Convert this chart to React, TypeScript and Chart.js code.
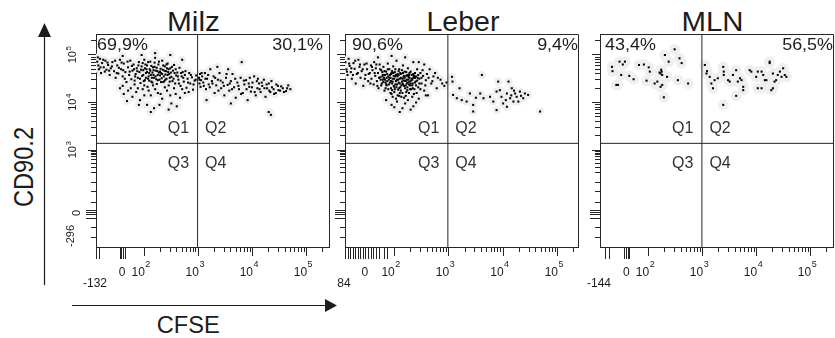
import React, { useEffect, useRef } from 'react';
import { Chart, registerables } from 'chart.js';

Chart.register(...registerables);

// ---------------- text ----------------
const PANEL_TITLES = ['Milz', 'Leber', 'MLN'];
const Q1_PERCENT = ['69,9%', '90,6%', '43,4%'];
const Q2_PERCENT = ['30,1%', '9,4%', '56,5%'];
const QUADRANT_NAMES = ['Q1', 'Q2', 'Q3', 'Q4'];
const X_AXIS_TITLE = 'CFSE';
const Y_AXIS_TITLE = 'CD90.2';

// ---------------- axes (display units: decades) ----------------
const GATE_X = 2.985;
const GATE_Y = 3.14;
const X_MIN = [1.107, 1.094, 1.098];
const X_MAX = [5.414, 5.377, 5.413];
const Y_MIN = 0.958;
const Y_MAX = 5.442;

const X_TICK_LABELS = [
  ['-132', '0', '10^2', '10^3', '10^4', '10^5'],
  ['84', '0', '10^2', '10^3', '10^4', '10^5'],
  ['-144', '0', '10^2', '10^3', '10^4', '10^5'],
];
const X_TICK_VALUES = [
  [1.107, 1.588, 2, 3, 4, 5],
  [1.094, 1.46, 2, 3, 4, 5],
  [1.098, 1.587, 2, 3, 4, 5],
];
const Y_TICK_LABELS = ['10^5', '10^4', '10^3', '0', '-296'];
const Y_TICK_VALUES = [5, 4, 3, 1.674, 0.958];

const X_MAJOR_TICKS = [2, 3, 4, 5];
const X_LINEAR_TICKS = [
  [1.12, 1.168, 1.553, 1.584, 1.614, 1.645],
  [1.112, 1.158, 1.204, 1.25, 1.296, 1.342, 1.388, 1.434, 1.48, 1.526, 1.572, 1.627, 1.682, 1.737, 1.811, 1.884],
  [1.204, 1.265, 1.556, 1.587, 1.617, 1.648],
];
const Y_MAJOR_TICKS = [3, 4, 5];
const Y_LINEAR_TICKS = [1.568, 1.632, 1.674, 1.716];
const Y_LOW_MINOR_TICKS = [1.168, 1.379, 1.905, 2.116, 2.326, 2.516, 2.642, 2.726, 2.8, 2.853, 2.895, 2.926, 2.958];
const LOG_MULTIPLIERS = [2, 3, 4, 5, 6, 7, 8, 9];

// ---------------- events [CFSE, CD90.2] ----------------
const MILZ_Q1 = [
  [1.13,4.86],[1.15,4.78],[1.18,4.92],[1.16,4.70],[1.22,4.83],[1.25,4.74],[1.20,4.62],[1.28,4.88],[1.30,4.69],[1.33,4.79],
  [1.36,4.58],[1.38,4.72],[1.41,4.85],[1.44,4.66],[1.47,4.52],[1.50,4.78],[1.52,4.61],[1.55,4.90],[1.57,4.70],[1.60,4.55],
  [1.62,4.82],[1.65,4.64],[1.67,4.43],[1.70,4.74],[1.72,4.58],
  [1.74,4.88],[1.76,4.49],[1.78,4.67],[1.80,4.80],[1.82,4.38],[1.84,4.60],[1.86,4.72],[1.88,4.52],[1.90,4.85],[1.91,4.64],
  [1.93,4.41],[1.95,4.76],[1.96,4.56],[1.98,4.68],[2.00,4.90],[2.01,4.47],[2.03,4.62],[2.05,4.78],[2.06,4.33],[2.08,4.55],
  [2.10,4.70],[2.11,4.86],[2.13,4.44],[2.15,4.63],[2.16,4.74],[2.18,4.52],[2.20,4.94],[2.21,4.67],[2.23,4.39],[2.25,4.58],
  [2.26,4.80],[2.28,4.48],[2.30,4.71],[2.31,4.62],[2.33,4.88],[2.35,4.43],[2.36,4.55],[2.38,4.76],[2.40,4.66],[2.41,4.50],
  [2.43,4.82],[2.45,4.36],[2.46,4.60],[2.48,4.72],[2.50,4.54],[2.52,4.45],[2.53,4.67],[2.55,4.79],[2.57,4.40],[2.59,4.57],
  [2.61,4.63],[2.63,4.48],[2.65,4.73],[2.67,4.35],[2.69,4.55],[2.71,4.64],[2.73,4.44],[2.75,4.58],[2.78,4.31],[2.80,4.50],
  [2.83,4.62],[2.85,4.40],[2.88,4.53],[2.90,4.27],[2.93,4.46],[2.96,4.57],
  [1.98,4.58],[2.04,4.70],[2.09,4.62],[2.14,4.52],[2.19,4.75],[2.24,4.66],[2.29,4.57],[2.34,4.69],[2.39,4.59],[2.44,4.64],
  [2.12,4.58],[2.22,4.49],[2.32,4.51],[2.27,4.63],[2.17,4.68],[2.07,4.50],[2.37,4.45],[2.42,4.72],[2.02,4.80],[2.47,4.52],
  [1.55,4.30],[1.62,4.18],[1.70,4.25],[1.78,4.12],[1.85,4.22],[1.92,4.05],[1.97,4.28],[2.05,3.95],[2.12,4.15],[2.18,3.88],
  [2.25,4.20],[2.33,4.08],[2.42,4.25],[2.50,3.98],[2.58,4.18],[2.66,4.10],[2.75,4.20],[2.12,3.80],[1.68,4.03],[2.60,3.92],
  [2.48,5.00],[2.20,5.04],[1.95,5.00],[2.70,4.90],[1.60,4.98],
  [1.81,4.70],[1.83,4.55],[1.87,4.66],[1.89,4.78],[1.92,4.50],[1.94,4.69],[1.97,4.83],[1.99,4.45],[2.01,4.72],[2.03,4.52],
  [2.05,4.64],[2.07,4.85],[2.09,4.46],[2.11,4.67],[2.13,4.77],[2.15,4.42],[2.17,4.58],[2.19,4.84],[2.21,4.55],[2.23,4.73],
  [2.25,4.47],[2.27,4.86],[2.29,4.65],[2.31,4.43],[2.33,4.60],[2.35,4.78],[2.37,4.67],[2.39,4.48],[2.41,4.80],[2.43,4.58],
  [2.45,4.70],[2.47,4.44],[2.49,4.63],[2.51,4.75],[2.54,4.50],[2.56,4.62],[2.58,4.70],[2.62,4.55],[2.64,4.40],[2.68,4.62],
  [2.72,4.52],[2.76,4.66],[2.81,4.42],[2.86,4.58],[2.91,4.38],[2.95,4.48],
  [1.14,4.95],[1.19,4.74],[1.24,4.90],[1.27,4.65],[1.32,4.84],[1.35,4.67],[1.40,4.76],[1.46,4.88],[1.49,4.62],[1.53,4.73],
  [1.58,4.84],[1.61,4.68],[1.64,4.50],[1.69,4.86],[1.73,4.65],[1.77,4.77],
  [1.60,4.35],[1.75,4.30],[1.88,4.30],[2.00,4.15],[2.08,4.25],[2.20,4.28],[2.30,4.18],[2.38,4.32],[2.48,4.15],[2.55,4.30],
  [2.70,4.28],[2.82,4.22],[1.90,3.95],[2.28,3.95],[2.45,3.85],[2.16,4.36],[2.00,4.36],[1.82,4.46],
];
const MILZ_Q2 = [
  [3.01,4.52],[3.02,4.40],[3.03,4.60],[3.05,4.47],[3.04,4.33],[3.07,4.55],[3.09,4.42],[3.12,4.62],[3.14,4.28],[3.16,4.50],
  [3.19,4.38],[3.22,4.70],[3.25,4.45],[3.28,4.55],[3.30,4.20],[3.33,4.36],[3.36,4.48],[3.39,4.62],[3.42,4.30],[3.45,4.42],
  [3.48,4.15],[3.51,4.52],[3.54,4.37],[3.57,4.25],[3.60,4.45],[3.63,4.60],[3.66,4.32],[3.69,4.10],[3.72,4.42],[3.75,4.28],
  [3.78,4.52],[3.80,4.85],[3.82,4.20],[3.85,4.38],[3.88,4.47],[3.91,4.05],[3.94,4.33],[3.97,4.23],[4.00,4.42],[4.03,4.55],
  [4.06,4.15],[4.09,4.30],[4.12,4.40],[4.15,4.22],[4.18,4.35],[4.21,4.48],[4.24,4.12],[4.27,4.30],[4.30,4.40],[4.33,4.22],
  [4.36,4.32],[4.40,4.18],[4.44,4.38],[4.48,4.26],[4.53,4.34],[4.58,4.22],[4.64,4.30],[4.70,4.28],[4.30,3.80],[4.34,3.74],
  [3.35,4.75],[3.55,4.70],[3.15,4.05],[3.60,3.98],[4.10,4.50],[3.95,4.52],
  [3.02,4.48],[3.06,4.62],[3.10,4.35],[3.13,4.50],[3.18,4.58],[3.21,4.32],[3.26,4.40],[3.31,4.52],[3.37,4.25],[3.41,4.46],
  [3.47,4.35],[3.52,4.60],[3.58,4.40],[3.62,4.28],[3.68,4.50],[3.74,4.35],[3.79,4.18],[3.84,4.46],[3.89,4.28],[3.93,4.40],
  [3.99,4.32],[4.04,4.22],[4.08,4.45],[4.13,4.28],[4.17,4.42],[4.22,4.30],[4.26,4.38],[4.31,4.25],[4.35,4.45],[4.39,4.28],
  [4.43,4.20],[4.47,4.35],[4.51,4.25],[4.56,4.30],[4.62,4.24],[4.66,4.36],
];
const LEBER_Q1 = [
  [1.10,4.85],[1.12,4.70],[1.14,4.58],[1.16,4.92],[1.18,4.77],[1.20,4.64],[1.22,4.50],[1.25,4.83],[1.27,4.71],[1.29,4.40],
  [1.31,4.60],[1.34,4.90],[1.36,4.75],[1.38,4.52],[1.40,4.66],[1.43,4.35],[1.45,4.80],[1.47,4.58],[1.50,4.70],[1.52,4.45],
  [1.55,4.62],[1.57,4.78],[1.58,4.50],[1.60,4.68],[1.62,4.38],[1.63,4.85],[1.65,4.56],[1.66,4.72],[1.68,4.45],[1.70,4.62],
  [1.71,4.30],[1.73,4.80],[1.74,4.53],[1.76,4.68],[1.77,4.40],[1.79,4.58],[1.80,4.75],[1.82,4.25],[1.83,4.48],[1.85,4.65],
  [1.86,4.36],[1.88,4.82],[1.89,4.55],[1.91,4.70],[1.92,4.42],[1.94,4.60],[1.95,4.18],[1.97,4.50],[1.98,4.76],[2.00,4.33],
  [2.01,4.64],[2.03,4.45],[2.04,4.88],[2.06,4.55],[2.07,4.27],[2.09,4.70],[2.10,4.40],[2.12,4.60],[2.13,4.12],[2.15,4.50],
  [2.16,4.78],[2.18,4.35],[2.19,4.65],[2.21,4.45],[2.22,4.22],[2.24,4.58],[2.25,4.72],[2.27,4.38],[2.28,4.52],[2.30,4.65],
  [2.31,4.28],[2.33,4.48],[2.35,4.60],[2.36,4.18],[2.38,4.42],[2.40,4.55],[2.42,4.70],[2.44,4.32],[2.46,4.50],[2.48,4.62],
  [2.50,4.40],[2.53,4.56],[2.55,4.25],[2.58,4.47],[2.60,4.60],
  [1.90,4.48],[1.93,4.52],[1.96,4.40],[1.99,4.56],[2.02,4.38],[2.05,4.48],[2.08,4.58],[2.11,4.32],[2.14,4.44],[2.17,4.54],
  [2.20,4.30],[2.23,4.40],[2.26,4.48],[2.29,4.36],[2.32,4.58],[1.87,4.60],[1.84,4.42],[1.81,4.52],[1.78,4.64],[2.00,4.22],
  [2.06,4.15],[2.12,4.25],[2.18,4.10],[1.94,4.30],[2.34,4.40],[2.08,4.66],[2.16,4.62],[1.96,4.66],[2.22,4.56],[2.28,4.44],
  [1.75,4.48],[2.38,4.52],[2.02,4.55],[2.10,4.50],[2.24,4.32],
  [1.85,4.05],[1.95,3.95],[2.05,4.02],[2.15,3.88],[2.25,4.05],[2.35,3.92],[2.45,4.08],[2.10,3.80],[2.30,3.85],[2.62,4.15],
  [2.68,4.40],[2.72,4.55],[2.78,4.30],[2.85,4.48],[2.92,4.35],[2.96,4.42],[2.65,4.70],[2.75,4.62],[2.55,4.80],[2.45,4.85],
  [1.95,4.98],[2.20,4.95],[1.70,4.95],[2.35,4.85],
  [1.72,4.52],[1.74,4.70],[1.76,4.36],[1.78,4.55],[1.80,4.43],[1.82,4.66],[1.84,4.30],[1.86,4.52],[1.88,4.70],[1.90,4.38],
  [1.92,4.58],[1.94,4.45],[1.96,4.26],[1.98,4.62],[2.00,4.50],[2.02,4.70],[2.04,4.32],[2.06,4.60],[2.08,4.42],[2.10,4.20],
  [2.12,4.52],[2.14,4.68],[2.16,4.38],[2.18,4.56],[2.20,4.46],[2.22,4.64],[2.24,4.26],[2.26,4.54],[2.28,4.62],[2.30,4.40],
  [2.32,4.50],[2.34,4.30],[2.36,4.56],[2.38,4.62],[2.40,4.36],[2.42,4.46],[2.44,4.58],[2.46,4.40],[2.48,4.28],[2.50,4.52],
  [1.83,4.58],[1.87,4.45],[1.91,4.52],[1.95,4.62],[1.99,4.35],[2.03,4.58],[2.07,4.48],[2.11,4.62],[2.15,4.40],[2.19,4.52],
  [2.23,4.48],[2.27,4.58],[2.31,4.46],[2.35,4.52],[2.39,4.44],[2.43,4.52],[1.97,4.44],[2.01,4.28],[2.05,4.38],[2.09,4.30],
  [2.13,4.36],[2.17,4.46],[2.21,4.36],[2.25,4.42],[2.29,4.28],[2.33,4.36],[2.37,4.28],[1.79,4.48],[1.85,4.38],[1.89,4.28],
  [1.93,4.20],[1.97,4.12],[2.03,4.08],[2.09,4.14],[2.15,4.20],[2.21,4.14],[2.27,4.20],[2.33,4.12],[2.41,4.20],
  [1.13,4.65],[1.17,4.82],[1.21,4.72],[1.24,4.58],[1.28,4.88],[1.33,4.62],[1.37,4.80],[1.42,4.70],[1.46,4.50],[1.49,4.82],
  [1.53,4.60],[1.56,4.40],[1.59,4.75],[1.64,4.62],[1.67,4.80],[1.69,4.35],[2.52,4.68],[2.57,4.36],[2.63,4.52],[2.70,4.45],
  [2.80,4.52],[2.88,4.40],[2.58,4.15],[2.40,4.00],[2.20,3.98],[2.00,3.90],
];
const LEBER_Q2 = [
  [3.06,4.54],[3.07,4.44],[3.08,4.16],[3.15,4.09],[3.24,4.05],[3.33,4.02],[3.39,4.19],[3.45,3.95],[3.58,4.19],[3.61,4.58],
  [3.64,4.09],[3.76,4.12],[3.82,4.02],[3.88,4.23],[3.91,4.44],[3.94,4.26],[3.97,4.12],[4.00,3.98],[4.07,4.19],[4.10,4.44],
  [4.13,4.09],[4.16,4.30],[4.19,4.02],[4.22,4.19],[4.25,4.12],[4.28,4.02],[4.31,4.23],[4.37,4.09],[4.40,4.19],[4.46,4.16],
  [3.45,3.81],[3.88,3.84],[4.68,3.81],[4.07,3.91],[4.15,4.15],[4.20,4.25],[4.05,4.05],[4.33,4.14],[3.20,4.30],[3.50,4.10],
];
const MLN_Q1 = [
  [1.32,4.75],[1.33,4.66],[1.40,4.37],[1.46,4.86],[1.52,4.80],[1.56,4.86],[1.49,4.58],[1.64,4.56],[1.72,4.49],[1.82,4.79],
  [1.91,4.80],[1.96,4.46],[2.00,4.74],[2.02,4.65],[2.11,4.40],[2.16,4.44],[2.20,4.63],[2.24,4.65],[2.25,4.58],[2.25,4.37],
  [2.28,4.11],[2.30,5.00],[2.34,4.54],[2.37,4.86],[2.48,5.12],[2.54,4.47],[2.61,4.83],[2.57,4.93],[2.73,4.40],[2.22,4.61],
  [2.23,4.69],[1.43,4.37],[2.22,4.33],
];
const MLN_Q2 = [
  [3.04,4.79],[3.08,4.66],[3.13,4.54],[3.16,4.40],[3.19,4.30],[3.22,4.47],[3.28,4.51],[3.38,4.75],[3.39,4.65],[3.47,4.47],
  [3.50,4.44],[3.56,4.58],[3.62,4.68],[3.65,4.44],[3.69,4.51],[3.72,4.47],[3.75,4.33],[3.75,4.26],[3.62,4.14],[3.38,3.95],
  [3.87,4.68],[3.90,4.65],[3.99,4.54],[4.02,4.30],[4.09,4.30],[4.12,4.58],[4.15,4.47],[4.18,4.47],[4.24,4.86],[4.27,4.26],
  [4.30,4.30],[4.33,4.44],[4.36,4.47],[4.39,4.58],[4.43,4.65],[4.46,4.54],[4.49,4.72],[4.52,4.58],[4.09,4.65],[3.07,4.61],
  [3.39,4.58],[4.02,4.65],[4.24,4.83],[4.30,4.61],[4.55,4.54],
];
const PANEL_EVENTS = [
  [MILZ_Q1, MILZ_Q2],
  [LEBER_Q1, LEBER_Q2],
  [MLN_Q1, MLN_Q2],
];

// ---------------- styles / layout ----------------
const FONT = "Arial, 'Liberation Sans', Helvetica, sans-serif";
const INK = '#1c1c1c';
const LINE = '#262626';
const HALO = '#efefef';
const HALO_RADIUS = [4, 4, 5.5];
const CANVAS_LEFT = [40, 289, 544];
const CANVAS_TOP = 28;
const CANVAS_W = 291;
const CANVAS_H = 272;
const PAD = { left: 56, right: 2, top: 6, bottom: 53 };
const PCT_LEFT_OFFSET = [1, 7, 5];
const PCT_RIGHT_OFFSET = [6, 0, 0];

function drawScaled(ctx: CanvasRenderingContext2D, text: string, x: number, y: number, size: number, align: CanvasTextAlign, sx: number) {
  ctx.save();
  ctx.translate(x, y);
  ctx.scale(sx, 1);
  ctx.font = `${size}px ${FONT}`;
  ctx.textAlign = align;
  ctx.textBaseline = 'alphabetic';
  ctx.fillText(text, 0, 0);
  ctx.restore();
}

function makeOverlay(p: number) {
  return {
    id: 'flowOverlay' + p,
    afterDraw(chart: any) {
      const ctx: CanvasRenderingContext2D = chart.ctx;
      const xs = chart.scales.x;
      const ys = chart.scales.y;
      const left = xs.getPixelForValue(X_MIN[p]);
      const right = xs.getPixelForValue(X_MAX[p]);
      const top = ys.getPixelForValue(Y_MAX);
      const bottom = ys.getPixelForValue(Y_MIN);
      ctx.save();
      ctx.strokeStyle = LINE;
      ctx.lineWidth = 1;
      ctx.beginPath();
      ctx.moveTo(Math.round(left), Math.round(top) + 0.5);
      ctx.lineTo(Math.round(right) + 0.5, Math.round(top) + 0.5);
      ctx.lineTo(Math.round(right) + 0.5, Math.round(bottom));
      ctx.stroke();

      ctx.fillStyle = INK;
      drawScaled(ctx, Q1_PERCENT[p], left + PCT_LEFT_OFFSET[p], top + 16, 16, 'left', 1.12);
      drawScaled(ctx, Q2_PERCENT[p], right - PCT_RIGHT_OFFSET[p], top + 16, 16, 'right', 1.12);

      const qx = xs.getPixelForValue(GATE_X);
      const qy = ys.getPixelForValue(GATE_Y);
      ctx.fillStyle = '#333';
      drawScaled(ctx, QUADRANT_NAMES[0], qx - 8.5, qy - 10, 16, 'right', 1);
      drawScaled(ctx, QUADRANT_NAMES[1], qx + 7.5, qy - 10, 16, 'left', 1);
      drawScaled(ctx, QUADRANT_NAMES[2], qx - 8.5, qy + 25, 16, 'right', 1);
      drawScaled(ctx, QUADRANT_NAMES[3], qx + 7.5, qy + 25, 16, 'left', 1);

      ctx.fillStyle = INK;
      X_TICK_LABELS[p].forEach((lab, i) => {
        const px = xs.getPixelForValue(X_TICK_VALUES[p][i]);
        if (lab.includes('^')) {
          const [b, e] = lab.split('^');
          drawScaled(ctx, b, px + 0.5, bottom + 29, 12, 'right', 1);
          drawScaled(ctx, e, px + 1, bottom + 20, 9, 'left', 1);
        } else if (i === 0) {
          drawScaled(ctx, lab, px - 1, bottom + 40, 12, 'center', 1);
        } else {
          drawScaled(ctx, lab, px, bottom + 29, 12, 'center', 1);
        }
      });

      if (p === 0) {
        Y_TICK_LABELS.forEach((lab, i) => {
          const py = ys.getPixelForValue(Y_TICK_VALUES[i]);
          ctx.save();
          if (lab.includes('^')) {
            const [b, e] = lab.split('^');
            ctx.translate(left - 20.5, py);
            ctx.rotate(-Math.PI / 2);
            ctx.font = `11px ${FONT}`;
            const wb = ctx.measureText(b).width;
            ctx.font = `8px ${FONT}`;
            const we = ctx.measureText(e).width;
            const start = -(wb + we) / 2;
            ctx.textAlign = 'left';
            ctx.font = `11px ${FONT}`;
            ctx.fillText(b, start, 0);
            ctx.font = `8px ${FONT}`;
            ctx.fillText(e, start + wb + 0.5, -5);
          } else if (i === Y_TICK_LABELS.length - 1) {
            ctx.translate(left - 22, py);
            ctx.rotate(-Math.PI / 2);
            ctx.font = `11px ${FONT}`;
            ctx.textAlign = 'left';
            ctx.fillText(lab, 0, 0);
          } else {
            ctx.translate(left - 16, py);
            ctx.rotate(-Math.PI / 2);
            ctx.font = `11px ${FONT}`;
            ctx.textAlign = 'center';
            ctx.fillText(lab, 0, 0);
          }
          ctx.restore();
        });
      }
      ctx.restore();
    },
  };
}

function tickAxis(p: number, axis: 'x' | 'y', position: string, values: number[], len: number, border: boolean) {
  const isX = axis === 'x';
  const sorted = values.slice().sort((a, b) => a - b);
  return {
    type: 'linear',
    position,
    min: isX ? X_MIN[p] : Y_MIN,
    max: isX ? X_MAX[p] : Y_MAX,
    bounds: 'data',
    afterBuildTicks: (s: any) => {
      s.ticks = sorted.map((v) => ({ value: v }));
    },
    afterFit: (s: any) => {
      if (isX) s.height = 0;
      else s.width = 0;
    },
    ticks: { display: false },
    grid: {
      display: true,
      drawOnChartArea: false,
      drawTicks: true,
      tickLength: len,
      color: LINE,
      tickColor: LINE,
      tickWidth: 1,
      lineWidth: 1,
    },
    border: { display: border, color: LINE, width: 1 },
  };
}

function buildConfig(p: number): any {
  const events = PANEL_EVENTS[p].flat().map(([x, y]) => ({ x, y }));
  const xMinor = [2, 3, 4].flatMap((d) => LOG_MULTIPLIERS.map((k) => d + Math.log10(k))).concat([5 + Math.log10(2)]);
  const yMinor = Y_LOW_MINOR_TICKS.concat(
    [3, 4].flatMap((d) => LOG_MULTIPLIERS.map((k) => d + Math.log10(k))),
    [5 + Math.log10(2)]
  );
  return {
    type: 'scatter',
    data: {
      datasets: [
        {
          label: 'halo',
          data: events,
          pointRadius: HALO_RADIUS[p],
          pointHoverRadius: 0,
          backgroundColor: HALO,
          pointBackgroundColor: HALO,
          pointBorderWidth: 0,
          borderWidth: 0,
          clip: 0,
          order: 3,
        },
        {
          label: 'events',
          data: events,
          pointStyle: 'rect',
          pointRadius: 1.45,
          pointHoverRadius: 0,
          backgroundColor: '#000',
          pointBackgroundColor: '#000',
          pointBorderWidth: 0,
          borderWidth: 0,
          clip: 0,
          order: 2,
        },
        {
          label: 'gate x',
          data: [{ x: GATE_X, y: Y_MIN }, { x: GATE_X, y: Y_MAX }],
          showLine: true,
          pointRadius: 0,
          pointHoverRadius: 0,
          borderColor: LINE,
          borderWidth: 1,
          order: 1,
        },
        {
          label: 'gate y',
          data: [{ x: X_MIN[p], y: GATE_Y }, { x: X_MAX[p], y: GATE_Y }],
          showLine: true,
          pointRadius: 0,
          pointHoverRadius: 0,
          borderColor: LINE,
          borderWidth: 1,
          order: 1,
        },
      ],
    },
    options: {
      responsive: false,
      animation: false,
      events: [],
      layout: { padding: PAD, autoPadding: false },
      plugins: { legend: { display: false }, tooltip: { enabled: false }, title: { display: false } },
      scales: {
        x: tickAxis(p, 'x', 'bottom', X_MAJOR_TICKS, 9, true),
        xMinor: tickAxis(p, 'x', 'bottom', xMinor, 5, false),
        xLinear: tickAxis(p, 'x', 'bottom', X_LINEAR_TICKS[p], 12, false),
        y: tickAxis(p, 'y', 'left', Y_MAJOR_TICKS, 8, true),
        yMinor: tickAxis(p, 'y', 'left', yMinor, 5, false),
        yLinear: tickAxis(p, 'y', 'left', Y_LINEAR_TICKS, 10, false),
      },
    },
    plugins: [makeOverlay(p)],
  };
}

export default function App() {
  const r0 = useRef<HTMLCanvasElement>(null);
  const r1 = useRef<HTMLCanvasElement>(null);
  const r2 = useRef<HTMLCanvasElement>(null);
  const refs = [r0, r1, r2];

  useEffect(() => {
    const charts = refs.map((r, p) => new Chart(r.current as HTMLCanvasElement, buildConfig(p)));
    return () => charts.forEach((c) => c.destroy());
  }, []);

  const TITLE_X = [193.5, 463, 712.5];
  const TITLE_LEN = [53, 73, 62];

  return (
    <div style={{ position: 'absolute', left: 0, top: 0, width: 835, height: 338, background: '#fff', overflow: 'hidden' }}>
      <svg width={835} height={338} style={{ position: 'absolute', left: 0, top: 0 }} fontFamily={FONT}>
        {PANEL_TITLES.map((t, i) => (
          <text key={t} x={TITLE_X[i]} y={31} fontSize={27} textAnchor="middle" fill={INK} textLength={TITLE_LEN[i]} lengthAdjust="spacingAndGlyphs">
            {t}
          </text>
        ))}
        <text transform="translate(33,167) rotate(-90)" fontSize={27} textAnchor="middle" fill={INK} textLength={80} lengthAdjust="spacingAndGlyphs">
          {Y_AXIS_TITLE}
        </text>
        <text x={188.3} y={333} fontSize={23} textAnchor="middle" fill={INK} textLength={63} lengthAdjust="spacingAndGlyphs">
          {X_AXIS_TITLE}
        </text>
        <line x1={44.5} y1={36} x2={44.5} y2={285} stroke={INK} strokeWidth={1.2} />
        <polygon points="44.5,23 38,37 51,37" fill={INK} />
        <line x1={72} y1={305.5} x2={326} y2={305.5} stroke={INK} strokeWidth={1.2} />
        <polygon points="337,305.5 325,299 325,312" fill={INK} />
      </svg>
      {CANVAS_LEFT.map((l, p) => (
        <canvas
          key={p}
          ref={refs[p]}
          width={CANVAS_W}
          height={CANVAS_H}
          style={{ position: 'absolute', left: l, top: CANVAS_TOP, width: CANVAS_W, height: CANVAS_H }}
        />
      ))}
    </div>
  );
}
